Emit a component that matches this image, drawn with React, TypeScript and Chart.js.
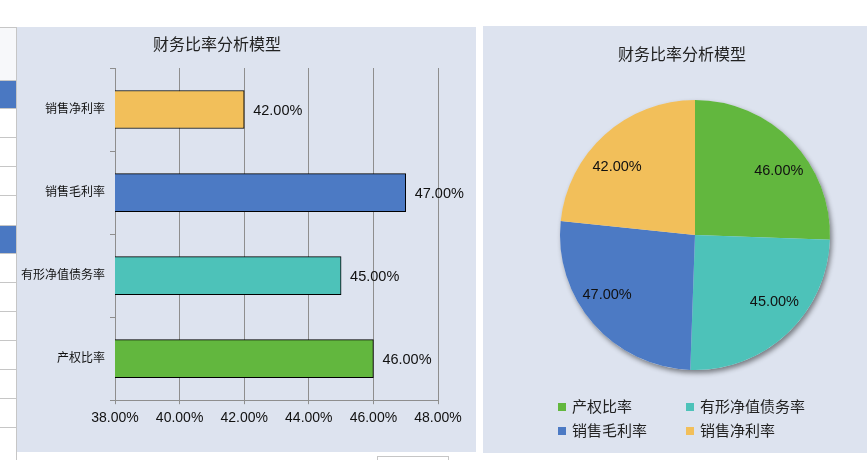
import { useEffect, useRef } from "react";
import { Chart, registerables } from "chart.js";

Chart.register(...registerables);

const CATEGORIES = ["产权比率", "有形净值债务率", "销售毛利率", "销售净利率"];
const RATIOS = [46, 45, 47, 42];
const COLORS = ["#62B73E", "#4DC2B9", "#4C7AC4", "#F2BF5A"];
const AXIS_MIN = 38;
const AXIS_MAX = 48;
const AXIS_STEP = 2;
const TITLE = "财务比率分析模型";

const FONT = "'Liberation Sans', 'Noto Sans CJK SC', Arial, sans-serif";
const PANEL_BG = "#DDE3EF";
const GRID = "#8E8E8E";

const pct = (v: number) => `${v.toFixed(2)}%`;

// value labels at the end of each bar
const barLabels = {
  id: "barLabels",
  afterDatasetsDraw(chart: Chart) {
    const ctx = chart.ctx;
    const meta = chart.getDatasetMeta(0);
    ctx.save();
    ctx.font = `14.5px ${FONT}`;
    ctx.fillStyle = "#111";
    ctx.textBaseline = "middle";
    ctx.textAlign = "left";
    meta.data.forEach((el: any, i: number) => {
      ctx.fillText(pct(RATIOS[i]), el.x + 9, el.y + 1);
    });
    ctx.restore();
  },
};

// soft drop shadow under the pie + labels inside slices
const pieExtras = {
  id: "pieExtras",
  beforeDatasetsDraw(chart: Chart) {
    const el: any = chart.getDatasetMeta(0).data[0];
    if (!el) return;
    const ctx = chart.ctx;
    ctx.save();
    ctx.shadowColor = "rgba(0,0,0,0.45)";
    ctx.shadowBlur = 5;
    ctx.shadowOffsetX = 2;
    ctx.shadowOffsetY = 3;
    ctx.fillStyle = PANEL_BG;
    ctx.beginPath();
    ctx.arc(el.x, el.y, el.outerRadius, 0, Math.PI * 2);
    ctx.fill();
    ctx.restore();
  },
  afterDatasetsDraw(chart: Chart) {
    const ctx = chart.ctx;
    const meta = chart.getDatasetMeta(0);
    ctx.save();
    ctx.font = `14.5px ${FONT}`;
    ctx.fillStyle = "#111";
    ctx.textBaseline = "middle";
    ctx.textAlign = "center";
    meta.data.forEach((el: any, i: number) => {
      const mid = (el.startAngle + el.endAngle) / 2;
      const d = el.outerRadius * 0.77;
      ctx.fillText(pct(RATIOS[i]), el.x + Math.cos(mid) * d * 1.12, el.y + Math.sin(mid) * d * 0.88);
    });
    ctx.restore();
  },
};

function BarPanel() {
  const ref = useRef<HTMLCanvasElement>(null);
  useEffect(() => {
    if (!ref.current) return;
    const chart = new Chart(ref.current, {
      type: "bar",
      data: {
        labels: CATEGORIES,
        datasets: [
          {
            data: RATIOS,
            backgroundColor: COLORS,
            borderColor: "#000",
            borderWidth: 1,
            borderSkipped: false,
            barThickness: 38,
          },
        ],
      },
      options: {
        indexAxis: "y",
        animation: false,
        responsive: true,
        maintainAspectRatio: false,
        layout: { padding: { top: 41, right: 38, bottom: 19, left: 0 } },
        plugins: { legend: { display: false }, tooltip: { enabled: false }, title: { display: false } },
        scales: {
          x: {
            min: AXIS_MIN,
            max: AXIS_MAX,
            ticks: {
              stepSize: AXIS_STEP,
              color: "#111",
              padding: 6,
              font: { family: FONT, size: 14 },
              callback: (v) => pct(Number(v)),
            },
            grid: { color: GRID, tickLength: 4 },
            border: { color: GRID },
          },
          y: {
            reverse: true,
            ticks: { color: "#111", padding: 5, font: { family: FONT, size: 12 } },
            grid: { offset: true, drawOnChartArea: false, color: GRID, tickLength: 5 },
            border: { color: GRID },
            afterFit: (s: any) => {
              s.width = 98;
            },
          },
        },
      },
      plugins: [barLabels],
    });
    return () => chart.destroy();
  }, []);
  return (
    <div style={{ position: "absolute", left: 17, top: 27, width: 459, height: 425, background: PANEL_BG }}>
      <div
        style={{
          position: "absolute",
          left: 0,
          width: 400,
          top: 8,
          textAlign: "center",
          font: `16px ${FONT}`,
          color: "#222",
          lineHeight: "20px",
        }}
      >
        {TITLE}
      </div>
      <canvas ref={ref} />
    </div>
  );
}

function PiePanel() {
  const ref = useRef<HTMLCanvasElement>(null);
  useEffect(() => {
    if (!ref.current) return;
    const chart = new Chart(ref.current, {
      type: "pie",
      data: {
        labels: CATEGORIES,
        datasets: [{ data: RATIOS, backgroundColor: COLORS, borderWidth: 0 }],
      },
      options: {
        animation: false,
        responsive: true,
        maintainAspectRatio: false,
        layout: { padding: { left: 77, right: 37, top: 74, bottom: 83 } },
        plugins: { legend: { display: false }, tooltip: { enabled: false } },
      },
      plugins: [pieExtras],
    });
    return () => chart.destroy();
  }, []);
  return (
    <div style={{ position: "absolute", left: 483, top: 26, width: 384, height: 427, background: PANEL_BG }}>
      <div
        style={{
          position: "absolute",
          left: 0,
          width: 398,
          top: 19,
          textAlign: "center",
          font: `16px ${FONT}`,
          color: "#222",
          lineHeight: "20px",
        }}
      >
        {TITLE}
      </div>
      <canvas ref={ref} />
      {CATEGORIES.map((c, i) => (
        <div
          key={c}
          style={{
            position: "absolute",
            left: i % 2 === 0 ? 75 : 203,
            top: i < 2 ? 372 : 396,
            display: "flex",
            alignItems: "center",
            font: `15px ${FONT}`,
            color: "#222",
            lineHeight: "18px",
            whiteSpace: "nowrap",
          }}
        >
          <span style={{ width: 8, height: 8, background: COLORS[i], marginRight: 6, display: "inline-block" }} />
          {c}
        </div>
      ))}
    </div>
  );
}

// fragment of the spreadsheet behind the charts
const ROW_LINES = [27, 80, 108, 137, 166, 195, 225, 253, 282, 311, 340, 369, 398, 427, 455];
const BLUE_ROWS = [1, 6];

export default function App() {
  return (
    <div style={{ position: "fixed", left: 0, top: 0, width: 867, height: 460, background: "#fff", overflow: "hidden" }}>
      <div style={{ position: "absolute", left: 0, top: 27, width: 16, height: 433, borderRight: "1px solid #c6c6c6" }} />
      {ROW_LINES.slice(0, -1).map((y, i) => (
        <div
          key={y}
          style={{
            position: "absolute",
            left: 0,
            top: y,
            width: 16,
            height: ROW_LINES[i + 1] - y,
            borderTop: "1px solid #c6c6c6",
            background: BLUE_ROWS.includes(i) ? "#4A78C2" : i === 0 ? "#f7f8fa" : "#fff",
          }}
        />
      ))}
      <div style={{ position: "absolute", left: 377, top: 456, width: 70, height: 10, border: "1px solid #c6c6c6" }} />
      <BarPanel />
      <PiePanel />
    </div>
  );
}
